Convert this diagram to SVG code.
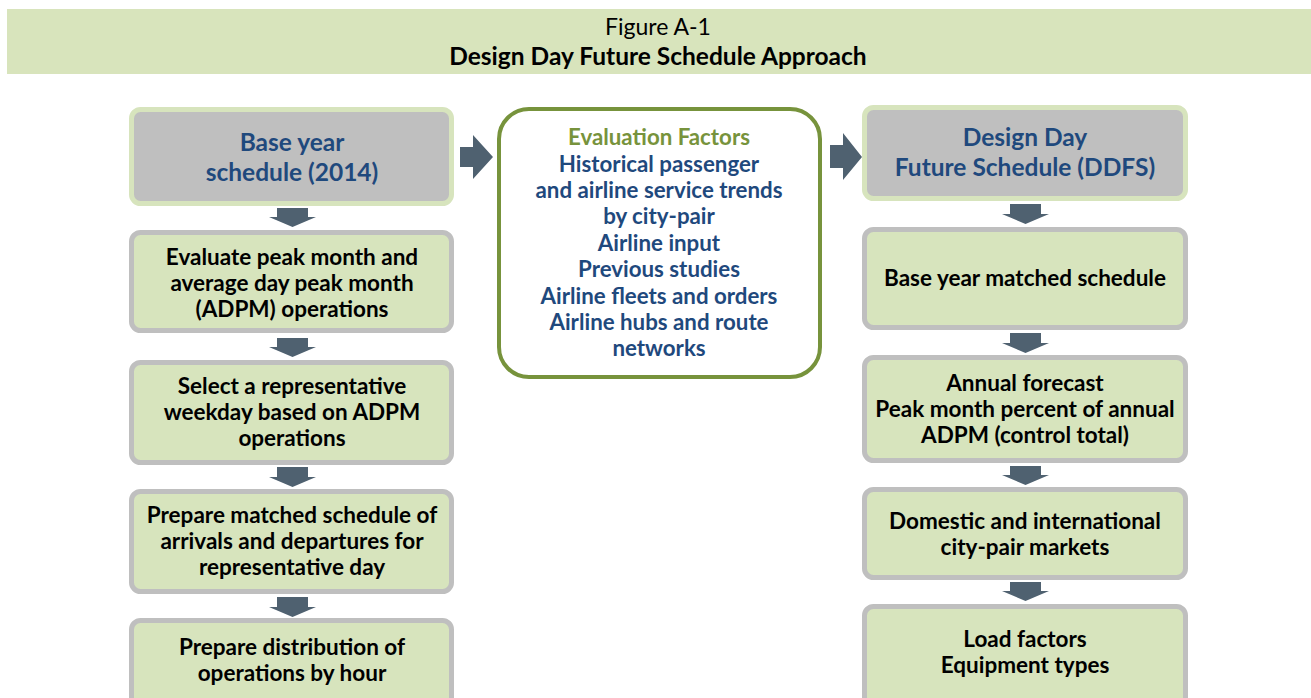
<svg xmlns="http://www.w3.org/2000/svg" width="1311" height="698" viewBox="0 0 1311 698">
<style>
text{font-family:Lato,"Open Sans","Liberation Sans",sans-serif;text-anchor:middle}
.t{font-size:22.5px;font-weight:bold;fill:#000}
.h{font-size:24.5px;font-weight:bold;fill:#1f497d}
.e{font-size:22.3px;font-weight:bold;fill:#1f497d}
.g{font-size:22.3px;font-weight:bold;fill:#77933c}
.step{fill:#d7e4bd;stroke:#bfbfbf;stroke-width:5}
.head{fill:#bfbfbf;stroke:#d7e4bd;stroke-width:5}
.arr{fill:#4f6170}
</style>
<rect x="7" y="9" width="1304" height="65" fill="#d8e4bc"/>
<text x="658" y="35" style="font-size:23px;fill:#000">Figure A-1</text>
<text x="658" y="65" style="font-size:24.5px;font-weight:bold;fill:#000">Design Day Future Schedule Approach</text>

<g id="connectors">
<polygon class="arr" points="277,208 308,208 308,217 316,217 292.5,227 269,217 277,217"/>
<polygon class="arr" points="277,338 308,338 308,347 316,347 292.5,357 269,347 277,347"/>
<polygon class="arr" points="277,467 308,467 308,477 316,477 292.5,487 269,477 277,477"/>
<polygon class="arr" points="277,597 308,597 308,607 316,607 292.5,617 269,607 277,607"/>
<polygon class="arr" points="460,147 473,147 473,135 493,157 473,179 473,167 460,167"/>
<polygon class="arr" points="830,145 843,145 843,133 862,157 843,180 843,168 830,168"/>
<polygon class="arr" points="1010,204 1041,204 1041,214 1049,214 1025.5,224 1002,214 1010,214"/>
<polygon class="arr" points="1010,333 1041,333 1041,343 1049,343 1025.5,353 1002,343 1010,343"/>
<polygon class="arr" points="1010,466 1041,466 1041,475 1049,475 1025.5,485 1002,475 1010,475"/>
<polygon class="arr" points="1010,582 1041,582 1041,591 1049,591 1025.5,601 1002,591 1010,591"/>
</g>

<g id="base-year">
<rect class="head" x="131.5" y="109.5" width="320" height="94" rx="9"/>
<text class="h" x="292" y="151">Base year</text>
<text class="h" x="292" y="181">schedule (2014)</text>
</g>
<g id="evaluate">
<rect class="step" x="131.5" y="232.5" width="320" height="98" rx="9"/>
<text class="t" x="292" y="265">Evaluate peak month and</text>
<text class="t" x="292" y="291">average day peak month</text>
<text class="t" x="292" y="317">(ADPM) operations</text>
</g>
<g id="select">
<rect class="step" x="131.5" y="362.5" width="320" height="100" rx="9"/>
<text class="t" x="292" y="394">Select a representative</text>
<text class="t" x="292" y="420">weekday based on ADPM</text>
<text class="t" x="292" y="446">operations</text>
</g>
<g id="prepare-matched">
<rect class="step" x="131.5" y="491.5" width="320" height="100" rx="9"/>
<text class="t" x="292" y="523">Prepare matched schedule of</text>
<text class="t" x="292" y="549">arrivals and departures for</text>
<text class="t" x="292" y="575">representative day</text>
</g>
<g id="prepare-distribution">
<rect class="step" x="131.5" y="620.5" width="320" height="100" rx="9"/>
<text class="t" x="292" y="655">Prepare distribution of</text>
<text class="t" x="292" y="681">operations by hour</text>
</g>

<g id="evaluation-factors">
<rect x="499" y="109" width="321" height="268" rx="30" fill="#fff" stroke="#77933c" stroke-width="4"/>
<text class="g" x="659" y="145">Evaluation Factors</text>
<text class="e" x="659" y="172">Historical passenger</text>
<text class="e" x="659" y="198">and airline service trends</text>
<text class="e" x="659" y="224">by city-pair</text>
<text class="e" x="659" y="251">Airline input</text>
<text class="e" x="659" y="277">Previous studies</text>
<text class="e" x="659" y="304">Airline fleets and orders</text>
<text class="e" x="659" y="330">Airline hubs and route</text>
<text class="e" x="659" y="356">networks</text>
</g>

<g id="ddfs">
<rect class="head" x="864.5" y="107.5" width="321" height="91" rx="9"/>
<text class="h" x="1025" y="146">Design Day</text>
<text class="h" x="1025" y="176">Future Schedule (DDFS)</text>
</g>
<g id="base-matched">
<rect class="step" x="864.5" y="229.5" width="321" height="98" rx="9"/>
<text class="t" x="1025" y="286">Base year matched schedule</text>
</g>
<g id="annual-forecast">
<rect class="step" x="864.5" y="357.5" width="321" height="103" rx="9"/>
<text class="t" x="1025" y="391">Annual forecast</text>
<text class="t" x="1025" y="417">Peak month percent of annual</text>
<text class="t" x="1025" y="443">ADPM (control total)</text>
</g>
<g id="domestic">
<rect class="step" x="864.5" y="489.5" width="321" height="88" rx="9"/>
<text class="t" x="1025" y="529">Domestic and international</text>
<text class="t" x="1025" y="555">city-pair markets</text>
</g>
<g id="load-factors">
<rect class="step" x="864.5" y="606.5" width="321" height="110" rx="9"/>
<text class="t" x="1025" y="647">Load factors</text>
<text class="t" x="1025" y="673">Equipment types</text>
</g>
</svg>
